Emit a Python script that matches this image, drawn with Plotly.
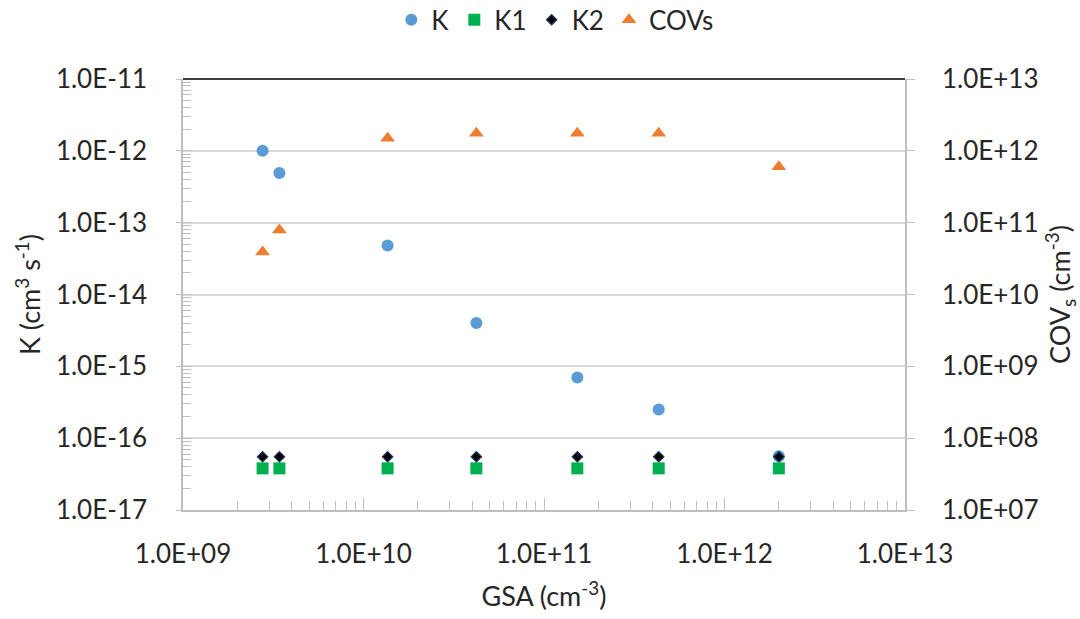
import plotly.graph_objects as go

# GSA concentration (cm^-3) for each measurement
gsa = [2.76e9, 3.42e9, 1.36e10, 4.22e10, 1.53e11, 4.32e11, 2.0e12]

# rate coefficients (cm^3 s^-1)
k_vals = [1.0e-12, 4.9e-13, 4.8e-14, 4.0e-15, 7.0e-16, 2.5e-16, 5.6e-17]
k1_vals = [3.8e-17, 3.8e-17, 3.8e-17, 3.8e-17, 3.8e-17, 3.8e-17, 3.8e-17]
k2_vals = [5.5e-17, 5.5e-17, 5.5e-17, 5.5e-17, 5.5e-17, 5.5e-17, 5.5e-17]

# COVs concentration (cm^-3), right axis
covs_vals = [3.9e10, 7.9e10, 1.5e12, 1.76e12, 1.76e12, 1.76e12, 6.0e11]

# tick labels
x_tickvals = [1e9, 1e10, 1e11, 1e12, 1e13]
x_ticktext = ["1.0E+09", "1.0E+10", "1.0E+11", "1.0E+12", "1.0E+13"]
yl_tickvals = [1e-17, 1e-16, 1e-15, 1e-14, 1e-13, 1e-12, 1e-11]
yl_ticktext = ["1.0E-17", "1.0E-16", "1.0E-15", "1.0E-14", "1.0E-13", "1.0E-12", "1.0E-11"]
yr_tickvals = [1e7, 1e8, 1e9, 1e10, 1e11, 1e12, 1e13]
yr_ticktext = ["1.0E+07", "1.0E+08", "1.0E+09", "1.0E+10", "1.0E+11", "1.0E+12", "1.0E+13"]

FONT = "Lato"
TXT = "#262626"
AXIS = "#bfbfbf"

fig = go.Figure()

fig.add_trace(go.Scatter(
    x=gsa, y=k_vals, name="K", mode="markers",
    marker=dict(symbol="circle", size=12, color="#5b9bd5"),
))
fig.add_trace(go.Scatter(
    x=gsa, y=k1_vals, name="K1", mode="markers",
    marker=dict(symbol="square", size=12, color="#00b050"),
))
fig.add_trace(go.Scatter(
    x=gsa, y=k2_vals, name="K2", mode="markers",
    marker=dict(symbol="diamond", size=8, color="#000000",
                line=dict(color="#1f3864", width=1.2)),
))
fig.add_trace(go.Scatter(
    x=gsa, y=covs_vals, name="COVs", mode="markers", yaxis="y2",
    marker=dict(symbol="triangle-up", size=13, color="#ed7d31"),
))

fig.update_layout(
    width=1080, height=619,
    margin=dict(l=183, r=175, t=79, b=109, autoexpand=False),
    paper_bgcolor="white", plot_bgcolor="white",
    font=dict(family=FONT, size=26, color=TXT),
    showlegend=True,
    legend=dict(
        orientation="h", x=0.515, xanchor="center",
        yref="container", y=0.968, yanchor="middle",
        font=dict(size=26, color=TXT), itemwidth=30, traceorder="normal",
    ),
    xaxis=dict(
        type="log", range=[9, 13],
        tickmode="array", tickvals=x_tickvals, ticktext=x_ticktext,
        showline=True, linecolor=AXIS, linewidth=1.5, mirror=False,
        ticks="inside", ticklen=12, tickcolor=AXIS, tickwidth=1,
        ticklabelstandoff=20,
        minor=dict(ticks="inside", ticklen=9, tickcolor=AXIS, dtick="D1", showgrid=False),
        showgrid=False, zeroline=False,
        title=dict(text="GSA (cm<sup>-3</sup>)", standoff=19, font=dict(size=27)),
    ),
    yaxis=dict(
        type="log", range=[-17, -11],
        tickmode="array", tickvals=yl_tickvals, ticktext=yl_ticktext,
        showline=True, linecolor=AXIS, linewidth=1.5,
        ticks="outside", ticklen=5, tickcolor=AXIS, tickwidth=1,
        ticklabelstandoff=24,
        minor=dict(ticks="inside", ticklen=8, tickcolor=AXIS, dtick="D1", showgrid=False),
        showgrid=True, gridcolor="#d9d9d9", gridwidth=1.5, zeroline=False,
        title=dict(text="K (cm<sup>3</sup> s<sup>-1</sup>)", standoff=7, font=dict(size=27)),
    ),
    yaxis2=dict(
        type="log", range=[7, 13], overlaying="y", side="right",
        tickmode="array", tickvals=yr_tickvals, ticktext=yr_ticktext,
        showline=True, linecolor=AXIS, linewidth=1.5,
        ticks="outside", ticklen=8, tickcolor=AXIS, tickwidth=1,
        ticklabelstandoff=22,
        showgrid=False, zeroline=False,
        title=dict(text="COV<sub>s</sub> (cm<sup>-3</sup>)", standoff=16, font=dict(size=27)),
    ),
    shapes=[dict(
        type="line", xref="paper", yref="paper", x0=0, x1=1, y0=1, y1=1,
        line=dict(color="#404040", width=2), layer="above",
    )],
)

fig.write_html("out.html")
